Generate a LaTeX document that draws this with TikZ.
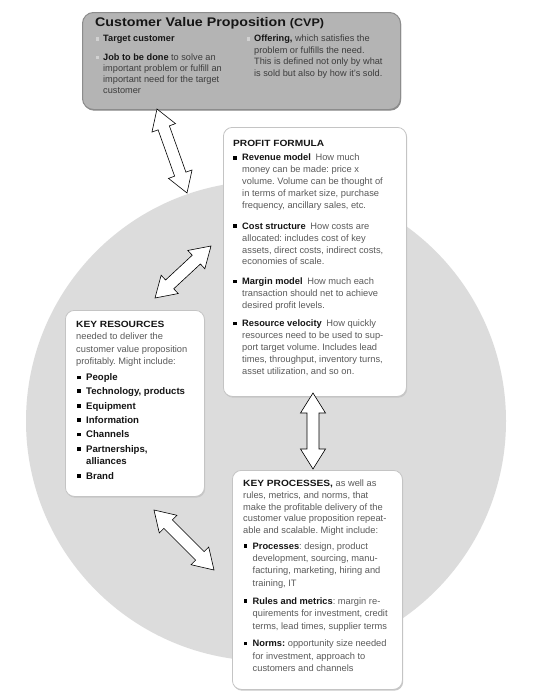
\documentclass[tikz,border=0pt]{standalone}
\usepackage{fontspec}
\setmainfont{Liberation Sans}
\usepackage{graphicx}
\usetikzlibrary{calc}
\definecolor{circ}{HTML}{DCDCDC}
\definecolor{cvpfill}{HTML}{B4B4B4}
\definecolor{cvpline}{HTML}{8C8C8C}
\definecolor{boxline}{HTML}{C4C4C4}
\definecolor{shadowc}{HTML}{C8C8C8}
\definecolor{bodygray}{HTML}{5A5A5A}
\definecolor{cvptext}{HTML}{3C3C3C}
\definecolor{termcol}{HTML}{151515}
\definecolor{cvpbul}{HTML}{D2D2D2}
\frenchspacing
\newcommand\st{\rule{0pt}{8pt}}
\newcommand\hd[1]{\scalebox{1.13}[1]{\fontsize{9}{10}\selectfont\bfseries\color{termcol}#1}}
\newcommand\bul{\llap{{\color{black}\rule[1.4pt]{3.6pt}{3.6pt}}\hspace{5.4pt}}}
\newcommand\gbul{\llap{{\color{cvpbul}\rule[1.4pt]{3.2pt}{3.2pt}}\hspace{4.5pt}}}
\newcommand\bt[1]{{\color{termcol}\bfseries #1}}
\newcommand\dblarrow[2]{%
  \coordinate (#1h) at ($(#1)!20pt!(#2)$);
  \coordinate (#2h) at ($(#2)!20pt!(#1)$);
  \draw[arrowbox] (#1) -- ($(#1h)!12.5pt!90:(#1)$) -- ($(#1h)!6pt!90:(#1)$)
    -- ($(#2h)!6pt!-90:(#2)$) -- ($(#2h)!12.5pt!-90:(#2)$) -- (#2)
    -- ($(#2h)!12.5pt!90:(#2)$) -- ($(#2h)!6pt!90:(#2)$)
    -- ($(#1h)!6pt!-90:(#1)$) -- ($(#1h)!12.5pt!-90:(#1)$) -- cycle;}
\tikzset{
  txt/.style={anchor=north west, inner sep=0pt, align=left, text=bodygray},
  wbox/.style={draw=boxline, fill=white, rounded corners=9pt, line width=0.8pt, anchor=north west, inner sep=0pt},
  shbox/.style={fill=shadowc, rounded corners=9pt, anchor=north west, inner sep=0pt},
  cvpbox/.style={draw=cvpline, fill=cvpfill, rounded corners=11pt, line width=1pt, anchor=north west, inner sep=0pt},
  arrowbox/.style={draw=black, fill=white, line width=0.6pt, line join=miter},
}
\begin{document}
\begin{tikzpicture}[x=1pt,y=-1pt]
\useasboundingbox (0,0) rectangle (546,699);
\fill[white] (0,0) rectangle (546,699);
\fill[circ] (266,421) circle [radius=240pt];

% shadows
\node[shbox, minimum width=183pt, minimum height=269pt] (profitsh) at (224,128.5) {};
\node[shbox, minimum width=139pt, minimum height=186pt] (ressh) at (66,311.5) {};
\node[shbox, minimum width=170pt, minimum height=219pt] (procsh) at (233,471.5) {};
\node[shbox, fill=cvpline, rounded corners=11pt, minimum width=318pt, minimum height=97pt] (cvpsh) at (83,13.5) {};

% boxes
\node[cvpbox, minimum width=318pt, minimum height=97pt] (cvp) at (82,12) {};
\node[wbox, minimum width=183pt, minimum height=269pt] (profit) at (223,127) {};
\node[wbox, minimum width=139pt, minimum height=186pt] (res) at (65,310) {};
\node[wbox, minimum width=170pt, minimum height=219pt] (proc) at (232,470) {};

% arrows
\coordinate (t1a) at (157,109);
\coordinate (t1b) at (187,193);
\coordinate (t2a) at (155,298);
\coordinate (t2b) at (211,246);
\coordinate (t3a) at (313,393);
\coordinate (t3b) at (313,469);
\coordinate (t4a) at (154,510);
\coordinate (t4b) at (214,570);
\dblarrow{t1a}{t1b}
\dblarrow{t2a}{t2b}
\dblarrow{t3a}{t3b}
\dblarrow{t4a}{t4b}

% CVP text
\node[anchor=base west, inner sep=0pt, text=termcol] (cvpt) at (95,26)
  {\scalebox{1.14}[1]{\fontsize{12.5}{14}\selectfont\bfseries Customer Value Proposition \fontsize{11}{13}\selectfont(CVP)}};
\node[txt, text=cvptext, font=\fontsize{9.2}{11.2}\selectfont] (cvp1) at (103,33.7)
  {\st\gbul\bt{Target customer}};
\node[txt, text=cvptext, font=\fontsize{9.2}{11.2}\selectfont] (cvp2) at (103,52)
  {\st\gbul\bt{Job to be done} to solve an\\ important problem or fulfill an\\ important need for the target\\ customer};
\node[txt, text=cvptext, font=\fontsize{9.2}{11.5}\selectfont] (cvp3) at (254,33.7)
  {\st\gbul\bt{Offering,} which satisfies the\\ problem or fulfills the need.\\ This is defined not only by what\\ is sold but also by how it’s sold.};

% Profit formula
\node[txt] (pft) at (233,138) {\st\hd{PROFIT FORMULA}};
\node[txt, font=\fontsize{9.3}{11.9}\selectfont] (pf1) at (242,152.7)
  {\st\bul\bt{Revenue model}\enspace How much\\ money can be made: price x\\ volume. Volume can be thought of\\ in terms of market size, purchase\\ frequency, ancillary sales, etc.};
\node[txt, font=\fontsize{9.3}{11.9}\selectfont] (pf2) at (242,221)
  {\st\bul\bt{Cost structure}\enspace How costs are\\ allocated: includes cost of key\\ assets, direct costs, indirect costs,\\ economies of scale.};
\node[txt, font=\fontsize{9.3}{11.9}\selectfont] (pf3) at (242,276.3)
  {\st\bul\bt{Margin model}\enspace How much each\\ transaction should net to achieve\\ desired profit levels.};
\node[txt, font=\fontsize{9.3}{11.9}\selectfont] (pf4) at (242,318.5)
  {\st\bul\bt{Resource velocity}\enspace How quickly\\ resources need to be used to sup-\\ port target volume. Includes lead\\ times, throughput, inventory turns,\\ asset utilization, and so on.};

% Key resources
\node[txt] (krt) at (76,319) {\st\hd{KEY RESOURCES}};
\node[txt, font=\fontsize{9.3}{12.5}\selectfont] (kr0) at (76,331.5)
  {\st needed to deliver the\\ customer value proposition\\ profitably. Might include:};
\node[txt, text=termcol, font=\fontsize{9.6}{12}\bfseries] (kr1) at (86,372.5) {\st\bul People};
\node[txt, text=termcol, font=\fontsize{9.6}{12}\bfseries] (kr2) at (86,386) {\st\bul Technology, products};
\node[txt, text=termcol, font=\fontsize{9.6}{12}\bfseries] (kr3) at (86,401) {\st\bul Equipment};
\node[txt, text=termcol, font=\fontsize{9.6}{12}\bfseries] (kr4) at (86,415) {\st\bul Information};
\node[txt, text=termcol, font=\fontsize{9.6}{12}\bfseries] (kr5) at (86,429.5) {\st\bul Channels};
\node[txt, text=termcol, font=\fontsize{9.6}{12}\bfseries] (kr6) at (86,444) {\st\bul Partnerships,\\ alliances};
\node[txt, text=termcol, font=\fontsize{9.6}{12}\bfseries] (kr7) at (86,471) {\st\bul Brand};

% Key processes
\node[txt, font=\fontsize{9.3}{11.7}\selectfont] (kpt) at (243,478.5)
  {\st\hd{KEY PROCESSES,} as well as\\ rules, metrics, and norms, that\\ make the profitable delivery of the\\ customer value proposition repeat-\\ able and scalable. Might include:};
\node[txt, font=\fontsize{9.3}{12.3}\selectfont] (kp1) at (252.5,541)
  {\st\bul\bt{Processes}: design, product\\ development, sourcing, manu-\\ facturing, marketing, hiring and\\ training, IT};
\node[txt, font=\fontsize{9.3}{12.5}\selectfont] (kp2) at (252.5,596)
  {\st\bul\bt{Rules and metrics}: margin re-\\ quirements for investment, credit\\ terms, lead times, supplier terms};
\node[txt, font=\fontsize{9.3}{12.5}\selectfont] (kp3) at (252.5,638.5)
  {\st\bul\bt{Norms:} opportunity size needed\\ for investment, approach to\\ customers and channels};
\end{tikzpicture}
\end{document}
